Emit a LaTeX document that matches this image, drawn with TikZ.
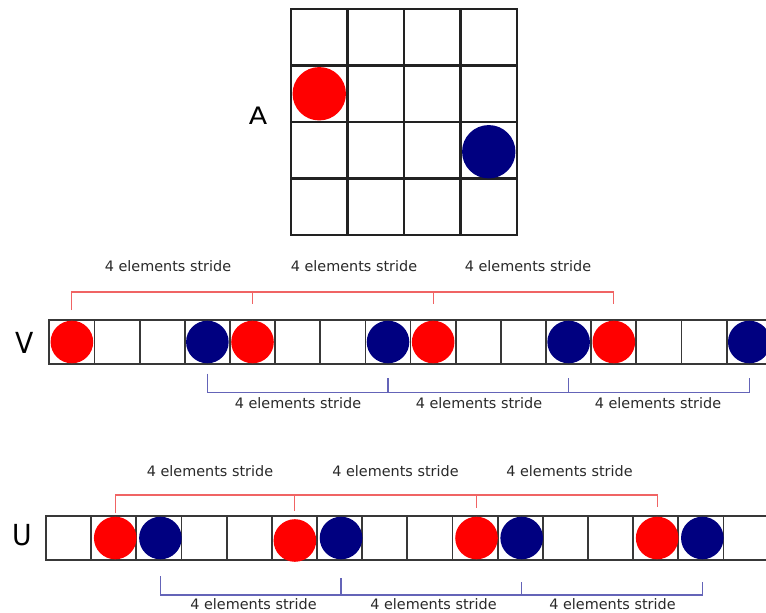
\documentclass[tikz,border=0pt]{standalone}
\usepackage{fontspec}
\setmainfont{DejaVu Sans}
\definecolor{ballred}{HTML}{FF0000}
\definecolor{ballblue}{HTML}{000080}
\definecolor{bracketred}{HTML}{F06464}
\definecolor{bracketblue}{HTML}{6464B8}
\definecolor{gridline}{HTML}{222222}
\definecolor{rowline}{HTML}{383838}
\definecolor{labelgray}{HTML}{2A2A2A}
\begin{document}
\begin{tikzpicture}[x=1pt,y=-1pt,
  gridcell/.style={draw=gridline, line width=2.6pt, minimum size=56.5pt, inner sep=0pt, outer sep=0pt},
  rowcell/.style={draw=rowline, line width=1.8pt, minimum width=45.16pt, minimum height=44pt, inner sep=0pt, outer sep=0pt},
  ball/.style={circle, inner sep=0pt, outer sep=0pt, minimum size=#1},
  redbr/.style={draw=bracketred, line width=1.1pt},
  bluebr/.style={draw=bracketblue, line width=1.1pt},
  stride/.style={font=\fontsize{14.4}{16}\selectfont, text=labelgray, anchor=base, inner sep=0pt},
  biglabel/.style={font=\fontsize{#1}{#1}\selectfont, text=black, anchor=base, inner sep=0pt},
]
\clip (0,0) rectangle (766,613);
\fill[white] (0,0) rectangle (766,613);

% ---- matrix A ----
\foreach \r in {0,...,3}
  \foreach \c in {0,...,3}
    \node[gridcell] (a-\r-\c) at ({319.25+56.5*\c},{37.25+56.5*\r}) {};
\node[ball=53.4pt, fill=ballred] (ared) at (a-1-0) {};
\node[ball=53.4pt, fill=ballblue] (ablue) at ([yshift=-1.5pt]a-2-3.center) {};
\node[biglabel=24, xscale=1.12] (labA) at (258,124.5) {A};

% ---- vector V ----
\foreach \i in {0,...,15}
  \node[rowcell] (v\i) at ({71.88+45.16*\i},342) {};
\foreach \i in {0,4,8,12}
  \node[ball=42.6pt, fill=ballred] (vr\i) at (v\i) {};
\foreach \i in {3,7,11,15}
  \node[ball=42.6pt, fill=ballblue] (vb\i) at (v\i) {};
\node[biglabel=29, xscale=0.92] (labV) at (25,353.5) {V};

% red bracket above V
\coordinate (vRline) at (0,292);
\coordinate (vRfirst) at (0,310);
\coordinate (vRtick) at (0,304);
\draw[redbr] (vr0 |- vRfirst) -- (vr0 |- vRline) -- (vr12 |- vRline) -- (vr12 |- vRtick);
\foreach \i in {4,8}
  \draw[redbr] (vr\i |- vRline) -- (vr\i |- vRtick);
\node[stride] (vs1) at (168,271.7) {4 elements stride};
\node[stride] (vs2) at (354,271.7) {4 elements stride};
\node[stride] (vs3) at (528,271.7) {4 elements stride};

% blue bracket below V
\coordinate (vBline) at (0,392.3);
\coordinate (vBfirst) at (0,373.5);
\coordinate (vBtick) at (0,377.5);
\draw[bluebr] (vb3 |- vBfirst) -- (vb3 |- vBline) -- (vb15 |- vBline) -- (vb15 |- vBtick);
\foreach \i in {7,11}
  \draw[bluebr] (vb\i |- vBline) -- (vb\i |- vBtick);
\node[stride] (vs4) at (298,408.3) {4 elements stride};
\node[stride] (vs5) at (479,408.3) {4 elements stride};
\node[stride] (vs6) at (658,408.3) {4 elements stride};

% ---- vector U ----
\foreach \i in {0,...,15}
  \node[rowcell] (u\i) at ({68.58+45.16*\i},538) {};
\foreach \i in {1,9,13}
  \node[ball=42.6pt, fill=ballred] (ur\i) at ([xshift=1.5pt]u\i.center) {};
\node[ball=42.6pt, fill=ballred] (ur5) at ([xshift=0.5pt,yshift=-2.5pt]u5.center) {};
\foreach \i in {2,6,10,14}
  \node[ball=42.6pt, fill=ballblue] (ub\i) at ([xshift=1.5pt]u\i.center) {};
\node[biglabel=29, xscale=0.92] (labU) at (22,545.5) {U};

% red bracket above U
\coordinate (uRline) at (0,495);
\coordinate (uRfirst) at (0,513);
\coordinate (uRtickA) at (0,511);
\coordinate (uRtickB) at (0,508);
\coordinate (uRlast) at (0,507);
\draw[redbr] (ur1 |- uRfirst) -- (ur1 |- uRline) -- (ur13 |- uRline) -- (ur13 |- uRlast);
\draw[redbr] (ur5 |- uRline) -- (ur5 |- uRtickA);
\draw[redbr] (ur9 |- uRline) -- (ur9 |- uRtickB);
\node[stride] (us1) at (210,476) {4 elements stride};
\node[stride] (us2) at (395.5,476) {4 elements stride};
\node[stride] (us3) at (569.5,476.5) {4 elements stride};

% blue bracket below U
\coordinate (uBline) at (0,595);
\coordinate (uBfirst) at (0,576);
\coordinate (uBtickA) at (0,578);
\coordinate (uBtickB) at (0,582);
\draw[bluebr] (ub2 |- uBfirst) -- (ub2 |- uBline) -- (ub14 |- uBline) -- (ub14 |- uBtickB);
\draw[bluebr] (ub6 |- uBline) -- (ub6 |- uBtickA);
\draw[bluebr] (ub10 |- uBline) -- (ub10 |- uBtickB);
\node[stride] (us4) at (253.5,609.5) {4 elements stride};
\node[stride] (us5) at (433.5,609.5) {4 elements stride};
\node[stride] (us6) at (612.5,609.5) {4 elements stride};
\end{tikzpicture}
\end{document}
